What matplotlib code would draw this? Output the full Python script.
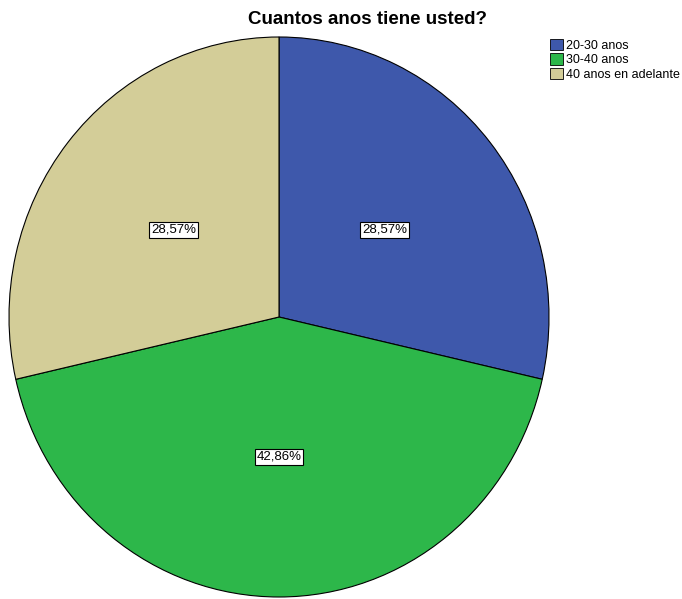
import matplotlib.pyplot as plt
from matplotlib.patches import Patch

plt.rcParams['font.family'] = ['Liberation Sans', 'DejaVu Sans']

# data
categories = ['20-30 anos', '30-40 anos', '40 anos en adelante']
counts = [2, 3, 2]
colors = ['#3e58ab', '#2db74a', '#d3cd98']

fig = plt.figure(figsize=(6.82, 5.99), dpi=100)

# axes box roughly matches the (slightly taller than wide) pie of the original
ax = fig.add_axes([9 / 682, 2 / 599, 540 / 682, 560 / 599])

wedges, texts, autotexts = ax.pie(
    counts,
    colors=colors,
    startangle=90,
    counterclock=False,
    autopct=lambda p: '{:.2f}%'.format(p).replace('.', ','),
    pctdistance=0.5,
    wedgeprops={'edgecolor': 'black', 'linewidth': 0.8},
    textprops={'fontsize': 9.5},
)

for t in autotexts:
    t.set_bbox(dict(boxstyle='square,pad=0.15', facecolor='white', edgecolor='black', linewidth=0.8))

ax.set_aspect('auto')
ax.set_xlim(-1, 1)
ax.set_ylim(-1, 1)
ax.axis('off')

fig.text(367 / 682, 1 - 20 / 599, 'Cuantos anos tiene usted?', ha='center', va='center',
         fontsize=13.5, fontweight='bold')

handles = [Patch(facecolor=c, edgecolor='black', linewidth=0.6) for c in colors]
fig.legend(handles, categories, loc='upper left', bbox_to_anchor=(550 / 682, 1 - 39 / 599),
           frameon=False, fontsize=9, handlelength=1.0, handleheight=1.0,
           handletextpad=0.3, labelspacing=0.12, borderaxespad=0, borderpad=0)

fig.savefig('out.png', dpi=100)
